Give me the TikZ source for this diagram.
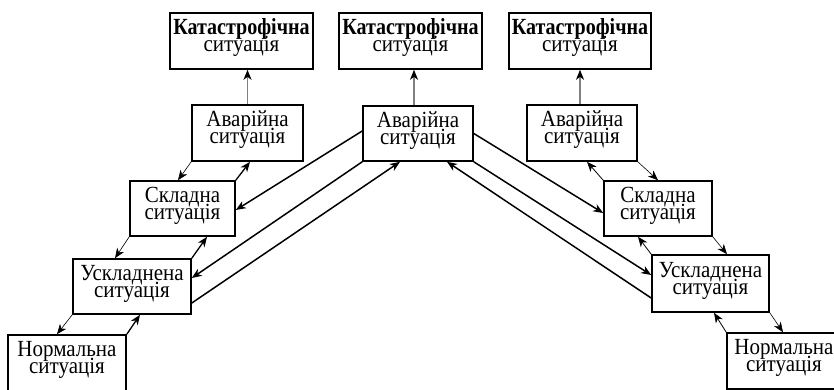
\documentclass[tikz,border=0pt]{standalone}
\usepackage{fontspec}
\setmainfont{Liberation Serif}
\newfontfamily\boxfont{Liberation Serif}
\usetikzlibrary{arrows.meta}
% two centred lines, slightly stretched vertically, block raised inside the box
\newcommand\twolines[2]{\scalebox{1}[1.1]{\vbox{\baselineskip=15.4pt
  \halign{\hfil##\hfil\cr
    \smash{#1}\rule{0pt}{13.9pt}\cr
    \smash{#2}\rule[-9.8pt]{0pt}{0pt}\cr}}}}
\newcommand\boldword[1]{\scalebox{0.955}[1]{\textbf{#1}}}
\begin{document}
\begin{tikzpicture}[x=1pt,y=-1pt,
  sbox/.style={draw,line width=1.6pt,inner sep=0pt,
    font=\boxfont\fontsize{21}{15.4}\selectfont},
  tip/.style={-{Stealth[length=10pt,width=8pt,inset=3pt]}},
  bigarr/.style={tip,line width=1.5pt},
  uparr/.style={tip,line width=1.3pt},
  uparrR/.style={tip,line width=0.8pt},
  dnarr/.style={tip,line width=0.6pt},
  toparr/.style={-{Stealth[length=10pt,width=8pt,inset=3pt,fill=black,color=black]},draw=black!50,line width=1.1pt}]
\useasboundingbox (0,0) rectangle (834,389);
\clip (0,0) rectangle (834,389);

% top row
\node[sbox,minimum width=143pt,minimum height=56pt] (cat1) at (241.5,41) {\twolines{\boldword{Катастрофічна}}{ситуація}};
\node[sbox,minimum width=143pt,minimum height=56pt] (cat2) at (410.5,41) {\twolines{\boldword{Катастрофічна}}{ситуація}};
\node[sbox,minimum width=142pt,minimum height=56pt] (cat3) at (580,41) {\twolines{\boldword{Катастрофічна}}{ситуація}};

% emergency level
\node[sbox,minimum width=111pt,minimum height=56pt] (av1) at (247.5,133) {\twolines{Аварійна}{ситуація}};
\node[sbox,minimum width=110pt,minimum height=55pt] (av2) at (418,133.5) {\twolines{Аварійна}{ситуація}};
\node[sbox,minimum width=110pt,minimum height=56pt] (av3) at (582,133) {\twolines{Аварійна}{ситуація}};

% complex level
\node[sbox,minimum width=105pt,minimum height=55pt] (sk1) at (182.5,208.5) {\twolines{Складна}{ситуація}};
\node[sbox,minimum width=108pt,minimum height=55pt] (sk3) at (658,208.5) {\twolines{Складна}{ситуація}};

% complicated level
\node[sbox,minimum width=118pt,minimum height=55pt] (us1) at (132,286.5) {\twolines{Ускладнена}{ситуація}};
\node[sbox,minimum width=117pt,minimum height=57pt] (us3) at (710.5,283.5) {\twolines{Ускладнена}{ситуація}};

% normal level
\node[sbox,minimum width=118pt,minimum height=56pt] (no1) at (67,363) {\twolines{Нормальна}{ситуація}};
\node[sbox,minimum width=114pt,minimum height=56pt] (no3) at (784,361) {\twolines{Нормальна}{ситуація}};

% vertical links to the catastrophic boxes
\draw[toparr] (av1.north) -- (av1.north |- cat1.south);
\draw[toparr] ([xshift=-4pt]av2.north) -- ([xshift=-4pt]av2.north |- cat2.south);
\draw[toparr] (av3.north -| cat3.south) -- (cat3.south);

% left staircase
\draw[dnarr] (av1.south west) -- ([xshift=-4.5pt]sk1.north);
\draw[uparr] (sk1.north east) -- ([xshift=2.5pt]av1.south);
\draw[dnarr] (sk1.south west) -- ([xshift=-17pt]us1.north);
\draw[uparr] (us1.north east) -- ([xshift=24.5pt]sk1.south);
\draw[dnarr] (us1.south west) -- ([xshift=-10pt]no1.north);
\draw[uparr] (no1.north east) -- ([xshift=8pt]us1.south);

% right staircase
\draw[dnarr] (av3.south east) -- (sk3.north);
\draw[uparrR] (sk3.north west) -- ([xshift=5pt]av3.south);
\draw[dnarr] (sk3.south east) -- ([xshift=16.5pt]us3.north);
\draw[uparrR] (us3.north west) -- ([xshift=-20pt]sk3.south);
\draw[dnarr] (us3.south east) -- ([xshift=-1pt]no3.north);
\draw[uparrR] (no3.north west) -- ([xshift=3.5pt]us3.south);

% long links from the central emergency box
\draw[bigarr] ([yshift=2.5pt]av2.west) -- ([yshift=-1.5pt]sk1.east);
\draw[bigarr] (av2.south west) -- ([yshift=8.5pt]us1.east);
\draw[bigarr] ([yshift=-16.5pt]us1.east) -- ([xshift=-18pt]av2.south);
\draw[bigarr] (av2.east) -- ([yshift=-4.5pt]sk3.west);
\draw[bigarr] (av2.south east) -- ([yshift=8.5pt]us3.west);
\draw[bigarr] ([yshift=-14.5pt]us3.west) -- ([xshift=29pt]av2.south);
\end{tikzpicture}
\end{document}
